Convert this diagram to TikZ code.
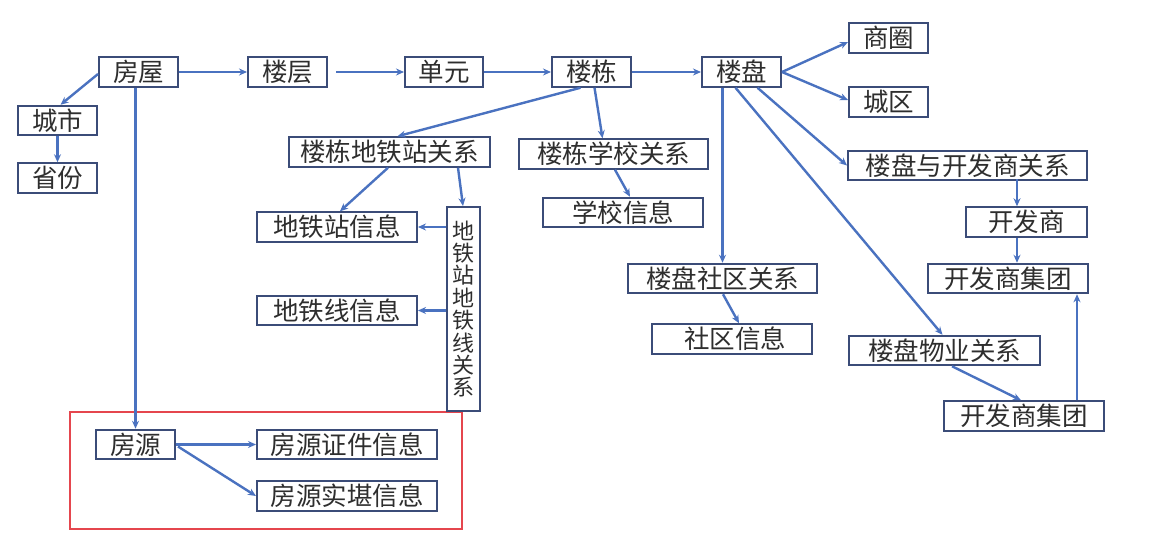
\documentclass[tikz,border=0pt]{standalone}
\usepackage{fontspec}
\newfontfamily\cjk{Noto Sans CJK SC}
\usetikzlibrary{arrows.meta,calc}
\definecolor{arrowblue}{HTML}{4A72C0}
\definecolor{boxline}{HTML}{3B4C78}
\definecolor{txt}{HTML}{2E2E2E}
\definecolor{redframe}{HTML}{E5464E}
\tikzset{
  box/.style={draw=boxline, line width=2pt, inner sep=0pt, text=txt,
    font=\cjk\fontsize{25.5}{26}\selectfont, minimum height=29.5pt},
  vbox/.style={draw=boxline, line width=2pt, inner sep=0pt, text=txt, align=center,
    font=\cjk\fontsize{22}{22.4}\selectfont},
  conn/.style={draw=arrowblue, line width=2.4pt, -{Stealth[length=8pt,width=7pt]}},
}
\begin{document}
\begin{tikzpicture}[x=1pt,y=-1pt]
\useasboundingbox (0,0) rectangle (1150,541);
\fill[white] (0,0) rectangle (1150,541);
% red frame
\draw[redframe, line width=2.2pt] (70,412) rectangle (462,529);
% nodes
\node[box, minimum width=79pt] (fangwu) at (138.5,72) {房屋};
\node[box, minimum width=79pt] (louceng) at (287.5,72) {楼层};
\node[box, minimum width=78pt] (danyuan) at (444,72) {单元};
\node[box, minimum width=79pt] (loudong) at (591.5,72) {楼栋};
\node[box, minimum width=79pt] (loupan) at (741.5,72) {楼盘};
\node[box, minimum width=79pt] (shangquan) at (888.5,38) {商圈};
\node[box, minimum width=79pt] (chengqu) at (888.5,102) {城区};
\node[box, minimum width=239pt] (lpkfs) at (967.5,165.5) {楼盘与开发商关系};
\node[box, minimum width=79pt] (chengshi) at (57.5,120.5) {城市};
\node[box, minimum width=79pt] (shengfen) at (57.5,178) {省份};
\node[box, minimum width=201pt] (ldts) at (389.5,152) {楼栋地铁站关系};
\node[box, minimum width=189pt] (ldxx) at (613.5,154) {楼栋学校关系};
\node[box, minimum width=160pt] (xxxx) at (623,212.5) {学校信息};
\node[box, minimum width=160pt] (dtzxx) at (337,227) {地铁站信息};
\node[box, minimum width=160pt] (dtxxx) at (337,310.5) {地铁线信息};
\node[vbox, minimum width=33pt, minimum height=204pt] (dtgx) at (463.5,309)
  {地\\铁\\站\\地\\铁\\线\\关\\系};
\node[box, minimum width=189pt] (lpsq) at (722.5,278.5) {楼盘社区关系};
\node[box, minimum width=160pt] (sqxx) at (732,339) {\hspace{6pt}社区信息};
\node[box, minimum width=121pt] (kfs) at (1026.5,222) {开发商};
\node[box, minimum width=160pt] (kfsjt1) at (1008,278.5) {开发商集团};
\node[box, minimum width=191pt] (lpwy) at (944.5,350.5) {楼盘物业关系};
\node[box, minimum width=160pt] (kfsjt2) at (1024,416) {开发商集团};
\node[box, minimum width=79pt] (fangyuan) at (135.5,444.5) {房源};
\node[box, minimum width=180pt] (fyzj) at (347,444.5) {房源证件信息};
\node[box, minimum width=180pt] (fysk) at (347,496) {房源实堪信息};
% connectors
\draw[conn] ($(fangwu.west)+(0,2)$) -- ($(chengshi.north)+(3,0)$);
\draw[conn] (chengshi.south) -- (shengfen.north);
\draw[conn] (fangwu.south -| fangyuan.north) -- (fangyuan.north);
\draw[conn] (fangwu.east) -- (louceng.west);
\draw[conn, shorten <=8pt] (louceng.east) -- (danyuan.west);
\draw[conn] (danyuan.east) -- (loudong.west);
\draw[conn] (loudong.east) -- (loupan.west);
\draw[conn] (loupan.east) -- ($(shangquan.west)+(0,4)$);
\draw[conn] (loupan.east) -- ($(chengqu.west)+(0,-2)$);
\draw[conn] (loupan.south -| lpsq.north) -- (lpsq.north);
\draw[conn] ($(loupan.south)+(-6,0)$) -- ($(lpwy.north)+(-2,0)$);
\draw[conn] ($(loupan.south)+(16,0)$) -- (lpkfs.west);
\draw[conn] ($(loudong.south)+(-11,0)$) -- ($(ldts.north)+(8,0)$);
\draw[conn] ($(loudong.south)+(3,0)$) -- ($(ldxx.north)+(-11,0)$);
\draw[conn] ($(ldxx.south)+(1.5,0)$) -- ($(xxxx.north)+(7,0)$);
\draw[conn] ($(ldts.south)+(-1.5,0)$) -- ($(dtzxx.north)+(3,0)$);
\draw[conn] ($(ldts.south)+(68.5,0)$) -- ($(dtgx.north)+(-0.5,0)$);
\draw[conn] (dtgx.west |- dtzxx.east) -- (dtzxx.east);
\draw[conn] (dtgx.west |- dtxxx.east) -- (dtxxx.east);
\draw[conn] ($(lpsq.south)+(0.5,0)$) -- ($(sqxx.north)+(7,0)$);
\draw[conn] ($(kfs.north)+(-9.5,-27)$) -- ($(kfs.north)+(-9.5,0)$);
\draw[conn] ($(kfs.south)+(-9.5,0)$) -- ($(kfsjt1.north)+(9,0)$);
\draw[conn] ($(lpwy.south)+(7.5,0)$) -- ($(kfsjt2.north)+(-3,0)$);
\draw[conn] ($(kfsjt2.north)+(53,0)$) -- ($(kfsjt1.south)+(69,0)$);
\draw[conn] (fangyuan.east) -- (fyzj.west);
\draw[conn] ($(fangyuan.east)+(2,2)$) -- (fysk.west);
\end{tikzpicture}
\end{document}
